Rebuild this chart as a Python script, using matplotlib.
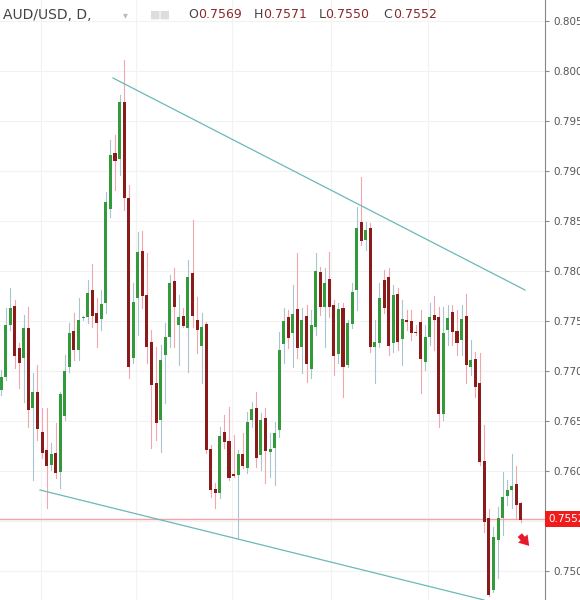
import matplotlib.pyplot as plt
from matplotlib.patches import Rectangle

# candle data (pixel rows, converted to price below)
# each row: open_y, close_y, high_y, low_y  (screen y, 0 = top)
candles_px = [
    (390, 377, 370, 395), (377, 325, 308, 380), (325, 308, 288, 330), (306, 356, 300, 368),
    (348, 363, 343, 388), (358, 328, 315, 402), (328, 410, 307, 427), (408, 392, 373, 480),
    (392, 429, 365, 440), (432, 453, 408, 458), (450, 466, 408, 508), (465, 454, 443, 470),
    (453, 473, 423, 478), (472, 394, 392, 488), (416, 371, 355, 420), (367, 333, 323, 372),
    (331, 350, 313, 360), (350, 320, 298, 360), (318, 318, 316, 320), (317, 293, 280, 323),
    (290, 316, 264, 327), (313, 323, 298, 347), (319, 304, 290, 330), (303, 202, 192, 313),
    (209, 155, 140, 217), (153, 161, 135, 190), (159, 102, 95, 175), (102, 198, 60, 210),
    (198, 367, 185, 378), (358, 302, 283, 363), (298, 252, 232, 335), (251, 296, 231, 308),
    (295, 347, 253, 363), (342, 385, 330, 448), (383, 423, 347, 440), (420, 360, 345, 452),
    (355, 337, 323, 403), (337, 283, 275, 347), (281, 307, 268, 347), (325, 317, 295, 365),
    (316, 326, 308, 327), (328, 277, 260, 372), (273, 316, 220, 327), (320, 330, 297, 353),
    (346, 327, 313, 383), (324, 450, 322, 453), (449, 490, 445, 497), (489, 493, 483, 508),
    (493, 436, 427, 498), (432, 442, 415, 448), (441, 478, 407, 480), (474, 476, 435, 477),
    (475, 454, 450, 538), (454, 466, 433, 468), (468, 422, 412, 473), (420, 409, 402, 427),
    (408, 458, 392, 467), (455, 420, 413, 470), (418, 451, 408, 483), (452, 449, 433, 477),
    (448, 433, 422, 485), (430, 350, 332, 437), (344, 321, 308, 363), (317, 338, 310, 348),
    (333, 314, 285, 367), (309, 348, 253, 358), (347, 320, 308, 373), (316, 364, 305, 382),
    (369, 325, 310, 378), (327, 271, 253, 335), (272, 307, 267, 315), (307, 283, 268, 347),
    (279, 307, 252, 317), (305, 356, 300, 375), (354, 309, 303, 363), (308, 367, 303, 397),
    (365, 323, 320, 367), (324, 292, 283, 328), (290, 228, 207, 310), (222, 241, 177, 245),
    (240, 230, 222, 250), (228, 347, 223, 352), (347, 342, 320, 383), (343, 298, 283, 347),
    (280, 308, 270, 313), (277, 346, 268, 355), (343, 295, 285, 352), (294, 342, 288, 350),
    (339, 319, 300, 365), (320, 322, 310, 330), (321, 333, 310, 340), (332, 333, 325, 335),
    (322, 359, 310, 393), (362, 337, 325, 370), (337, 317, 303, 345), (315, 320, 296, 350),
    (317, 414, 307, 427), (414, 333, 307, 420), (330, 318, 305, 345), (312, 332, 305, 345),
    (331, 343, 310, 355), (340, 319, 305, 355), (316, 365, 294, 383), (367, 360, 340, 375),
    (359, 387, 352, 397), (383, 462, 353, 465), (461, 522, 425, 532), (518, 595, 509, 596),
    (590, 537, 527, 592), (540, 518, 507, 578), (518, 497, 472, 535), (496, 490, 480, 505),
    (490, 486, 454, 508), (484, 505, 466, 518), (503, 520, 502, 522),
]


def to_price(y):
    return 0.8 - (y - 71) / 10000


opens = [to_price(c[0]) for c in candles_px]
closes = [to_price(c[1]) for c in candles_px]
highs = [to_price(c[2]) for c in candles_px]
lows = [to_price(c[3]) for c in candles_px]
last_price = 0.7552

UP = "#339a3c"
DOWN = "#8b1a1a"
UP_WICK = "#a9c6cf"
DOWN_WICK = "#f2a7b0"

fig = plt.figure(figsize=(5.8, 6.0), dpi=100)
ax = fig.add_axes([0, 0, 545 / 580, 1])

step = 4.56
x_of = lambda px: (px - 1) / step
ax.set_xlim(x_of(0), x_of(545))
ax.set_ylim(to_price(600), to_price(0))

# grid
for gx in [41, 136, 232, 331, 428]:
    ax.axvline(x_of(gx), color="#f2f2f2", lw=0.8, zorder=0)
yt = [0.7500 + 0.005 * i for i in range(12)]
for t in yt:
    ax.axhline(t, color="#f2f2f2", lw=0.8, zorder=0)

for i, (o, c, h, l) in enumerate(zip(opens, closes, highs, lows)):
    up = c >= o
    ax.plot([i, i], [l, h], color=UP_WICK if up else DOWN_WICK, lw=0.8, zorder=1)
    bottom = min(o, c)
    height = max(abs(c - o), 0.00008)
    ax.add_patch(Rectangle((i - 0.33, bottom), 0.66, height,
                           color=UP if up else DOWN, lw=0, zorder=2))

# trend lines
ax.plot([x_of(113), x_of(525)], [to_price(78), to_price(290)], color="#6bb8b8", lw=0.9, zorder=3)
ax.plot([x_of(40), x_of(484)], [to_price(490), to_price(600)], color="#6bb8b8", lw=0.9, zorder=3)

# last price line
ax.axhline(last_price, color="#f5a3a8", lw=1.0, zorder=1)

# red arrow
ax.annotate("", xy=(x_of(531), to_price(548)), xytext=(x_of(518), to_price(533)),
            arrowprops=dict(arrowstyle="simple,head_width=0.9,tail_width=0.4,head_length=0.7",
                            color="#e8192c", lw=0))

ax.yaxis.tick_right()
ax.set_yticks(yt)
# 0.7550 sits under the last-price tag, as in the reference
ax.set_yticklabels(["" if abs(t - 0.755) < 1e-6 else f"{t:.4f}" for t in yt],
                   fontsize=7.5, color="#555555")
ax.tick_params(axis="y", length=3, color="#888888", pad=3)
ax.set_xticks([])
for s in ["top", "left", "bottom"]:
    ax.spines[s].set_visible(False)
ax.spines["right"].set_color("#888888")

ax.text(1.006, last_price, "0.7552", transform=ax.get_yaxis_transform(), fontsize=7.5,
        color="white", va="center", ha="left", clip_on=False,
        bbox=dict(boxstyle="square,pad=0.3", fc="#f01c1c", ec="none"))

# header
fig.text(0.005, 0.975, "AUD/USD, D,", fontsize=10, color="#444444", va="center")
fig.text(0.212, 0.975, "▾", fontsize=7, color="#bbbbbb", va="center")
fig.text(0.258, 0.975, "■■", fontsize=8, color="#dddddd", va="center")
x0 = 0.325
for lab, val in [("O", "0.7569"), ("H", "0.7571"), ("L", "0.7550"), ("C", "0.7552")]:
    fig.text(x0, 0.975, lab, fontsize=9, color="#444444", va="center")
    fig.text(x0 + (0.012 if lab == "L" else 0.016), 0.975, val, fontsize=9,
             color="#8b2a2a", va="center")
    x0 += 0.112

fig.savefig("out.png", dpi=100)
